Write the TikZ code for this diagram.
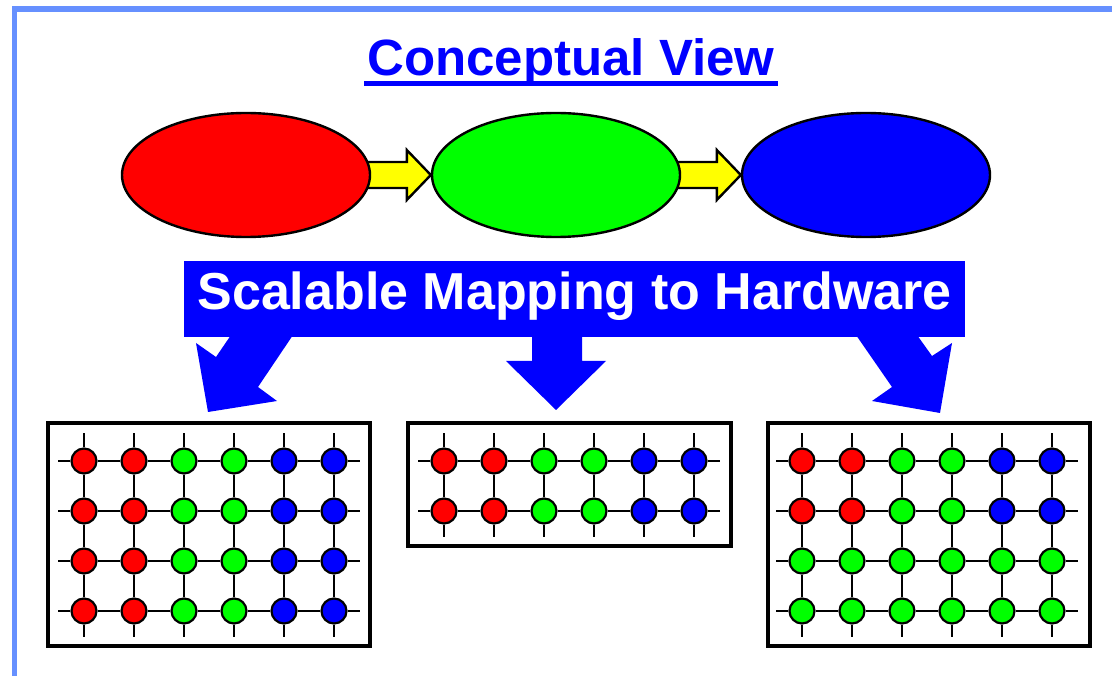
\documentclass[tikz,border=0pt]{standalone}
\usepackage{fontspec}
\setmainfont{Liberation Sans}
\usetikzlibrary{shapes.geometric,calc,backgrounds}
\definecolor{frameblue}{RGB}{102,144,255}
\definecolor{pblue}{RGB}{0,0,255}
\definecolor{pred}{RGB}{255,0,0}
\definecolor{pgreen}{RGB}{0,255,0}
\definecolor{pyellow}{RGB}{255,255,0}
\newcommand\pegrid[4]{%
  \foreach \r in {0,...,#3}{
    \foreach \c/\col in {0/pred,1/pred,2/pgreen,3/pgreen,4/pblue,5/pblue}{
      \ifnum\r>#4\relax \edef\fc{pgreen}\else \edef\fc{\col}\fi
      \node[pe,fill=\fc] (#1-\r-\c) at ({#2+50*\c},{461+50*\r}) {};
    }
  }
  \foreach \r in {0,...,#3}{
    \draw[gridline] (#1-\r-0.west) -- +(-12.5,0);
    \draw[gridline] (#1-\r-5.east) -- +(12.5,0);
    \foreach \c [evaluate=\c as \n using int(\c+1)] in {0,...,4}
      \draw[gridline] (#1-\r-\c) -- (#1-\r-\n);
  }
  \foreach \c in {0,...,5}{
    \draw[gridline] (#1-0-\c.north) -- +(0,-14);
    \draw[gridline] (#1-#3-\c.south) -- +(0,12);
  }
  \ifnum#3>0\relax
  \foreach \c in {0,...,5}{
    \foreach \r [evaluate=\r as \p using int(\r-1)] in {1,...,#3}
      \draw[gridline] (#1-\p-\c) -- (#1-\r-\c);
  }
  \fi
}
\begin{document}
\begin{tikzpicture}[x=1pt,y=-1pt,
  blob/.style={ellipse,draw=black,line width=2.4pt,minimum width=248pt,minimum height=124pt,inner sep=0pt},
  pe/.style={circle,draw=black,line width=2.2pt,minimum size=25pt,inner sep=0pt},
  gridline/.style={black,line width=2.2pt},
  box/.style={draw=black,line width=4.5pt},
  yarrow/.style={fill=pyellow,draw=black,line width=2.4pt,line join=miter},
  barrow/.style={fill=pblue,draw=none},
]
\useasboundingbox (0,0) rectangle (1112,676);
\begin{scope}[on background layer]
\fill[white] (0,0) rectangle (1112,676);
\end{scope}
\fill[frameblue] (12,6) rectangle (1112,12);
\fill[frameblue] (12,6) rectangle (17,676);

% title
\node[anchor=base,text=pblue,font=\fontsize{51}{60}\selectfont\bfseries,inner sep=0pt] (title) at (571,76) {Conceptual View};
\fill[pblue] (364,81) rectangle (778,86);

% conceptual ellipses
\node[blob,fill=pred] (r) at (246,175) {};
\node[blob,fill=pgreen] (g) at (556,175) {};
\node[blob,fill=pblue] (b) at (866,175) {};

\begin{scope}[on background layer]
\draw[yarrow] ($(r.east)+(-8,-13)$) -- ($(g.west)+(-24,-13)$) -- ($(g.west)+(-24,-25)$) -- (g.west)
  -- ($(g.west)+(-24,25)$) -- ($(g.west)+(-24,13)$) -- ($(r.east)+(-8,13)$) -- cycle;
\draw[yarrow] ($(g.east)+(-8,-13)$) -- ($(b.west)+(-24,-13)$) -- ($(b.west)+(-24,-25)$) -- (b.west)
  -- ($(b.west)+(-24,25)$) -- ($(b.west)+(-24,13)$) -- ($(g.east)+(-8,13)$) -- cycle;
\end{scope}

% banner
\node[fill=pblue,text=white,font=\fontsize{52}{60}\selectfont\bfseries,minimum width=781pt,minimum height=76pt,
  text height=38pt,text depth=16pt,inner sep=0pt] (banner) at (574.5,299) {Scalable Mapping to Hardware};

% blue mapping arrows
\fill[barrow] (231,335) -- (216,357) -- (196,343) -- (208,412) -- (277,401) -- (258,387) -- (293,335) -- cycle;
\fill[barrow] (532,335) -- (532,361) -- (506,361) -- (556,410) -- (606,361) -- (582,361) -- (582,335) -- cycle;
\fill[barrow] (856,335) -- (892,387) -- (872,401) -- (940,413) -- (952,343) -- (932,356) -- (917,335) -- cycle;

% hardware grids
\draw[box] (48,423) rectangle (370,646);
\draw[box] (408,423) rectangle (731,546);
\draw[box] (768,423) rectangle (1090,646);
\pegrid{L}{84}{3}{3}
\pegrid{M}{444}{1}{1}
\pegrid{R}{802}{3}{1}
\end{tikzpicture}
\end{document}
